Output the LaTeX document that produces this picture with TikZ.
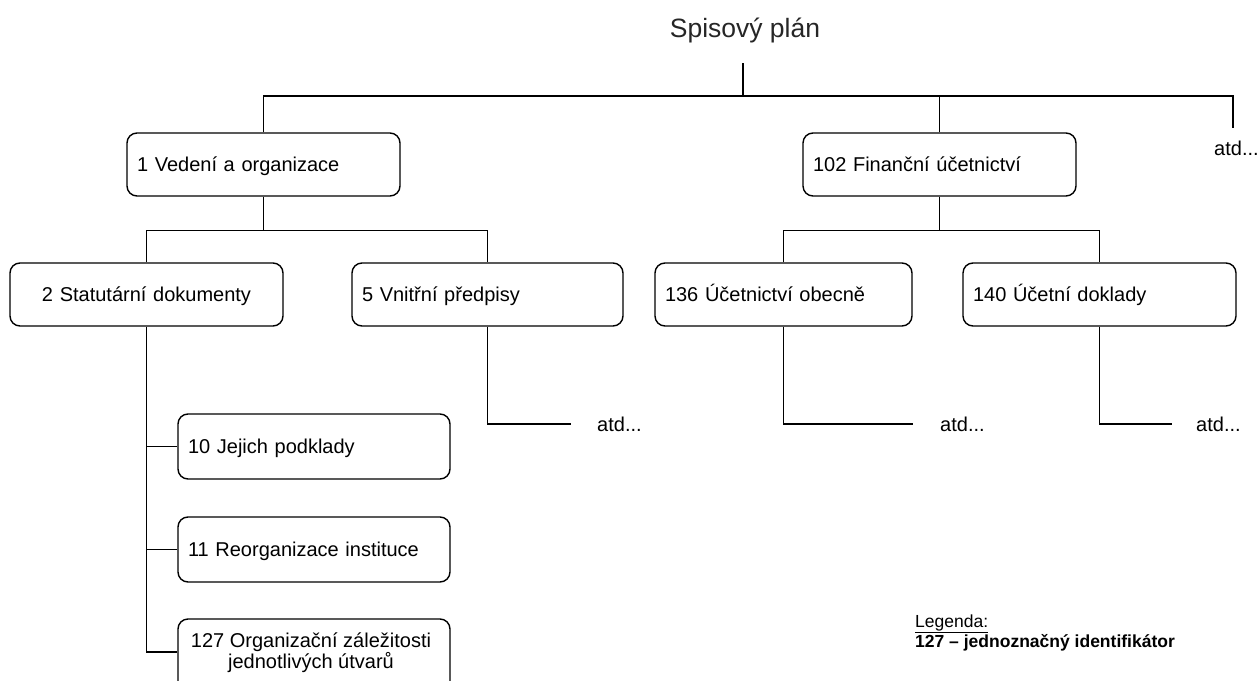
\documentclass[tikz,border=0pt]{standalone}
\usepackage{fontspec}
\setmainfont{Liberation Sans}
\newcommand\boxfont{\fontsize{20}{21}\selectfont}
\newcommand\legfont{\fontsize{17.5}{20}\selectfont}
\newcommand\titfont{\fontsize{26.5}{30}\selectfont}
\begin{document}
\begin{tikzpicture}[x=1pt,y=-1pt,
  conn/.style={line width=1.5pt},
  box/.style={draw, rounded corners=10pt, line width=1.4pt, minimum height=63pt,
    inner xsep=10pt, inner ysep=0pt, font=\boxfont, text height=17pt, text depth=4pt},
  lbox/.style={box, align=left},
  cbox/.style={box, align=center},
  etc/.style={font=\boxfont, inner sep=0pt, anchor=base west}]
\useasboundingbox (0,0) rectangle (1258,680);
\clip (0,0) rectangle (1258,680);

\node[font=\titfont, anchor=base, text=black!85] (title) at (745,37) {Spisový plán};

\node[lbox, text width=253pt] (b1) at (263.5,164.5) {1 Vedení a organizace};
\node[lbox, text width=253pt] (b102) at (939.5,164.5) {102 Finanční účetnictví};
\node[cbox, text width=253pt] (b2) at (146.5,294.5) {2 Statutární dokumenty};
\node[lbox, text width=251pt] (b5) at (487.5,294.5) {5 Vnitřní předpisy};
\node[lbox, text width=237pt] (b136) at (783.5,294.5) {136 Účetnictví obecně};
\node[lbox, text width=253pt] (b140) at (1099.5,294.5) {140 Účetní doklady};
\node[lbox, text width=252pt, minimum height=65pt] (b10) at (314,446.5) {10 Jejich podklady};
\node[lbox, text width=252pt, minimum height=65pt] (b11) at (314,549.5) {11 Reorganizace instituce};
\node[draw, rounded corners=10pt, line width=1.4pt, minimum width=272pt, minimum height=80pt, inner sep=0pt] (b127) at (314,659) {};
\node[font=\boxfont, align=center, anchor=base, inner sep=0pt] (b127t) at (311,668) {127 Organizační záležitosti\\jednotlivých útvarů};

\node[etc] (a0) at (1214,155) {atd...};
\node[etc] (a5) at (597,431) {atd...};
\node[etc] (a136) at (940,431) {atd...};
\node[etc] (a140) at (1196,431) {atd...};

\coordinate (tt) at (743,63);
\coordinate (bus) at (743,96);
\coordinate (e0) at (1233,128);
\coordinate (e5) at (571,424);
\coordinate (e136) at (913,424);
\coordinate (e140) at (1172,424);

\draw[conn] (tt) -- (bus);
\draw[conn] (b1.north) |- (e0 |- bus) -- (e0);
\draw[conn] (b102.north) -- (b102.north |- bus);

\draw[conn] (b1.south) -- ++(0,34) coordinate (j1);
\draw[conn] (b2.north) |- (j1) -| (b5.north);
\draw[conn] (b102.south) -- ++(0,34) coordinate (j2);
\draw[conn] (b136.north) |- (j2) -| (b140.north);

\draw[conn] (b2.south) |- (b127.west |- 0,652);
\draw[conn] (b10.west) -- (b10.west -| b2.south);
\draw[conn] (b11.west) -- (b11.west -| b2.south);

\draw[conn] (b5.south) |- (e5);
\draw[conn] (b136.south) |- (e136);
\draw[conn] (b140.south) |- (e140);

\node[font=\legfont, align=left, anchor=base west, inner sep=0pt] (leg) at (915,647)
  {\underline{Legenda:}\\\textbf{127 – jednoznačný identifikátor}};
\end{tikzpicture}
\end{document}
